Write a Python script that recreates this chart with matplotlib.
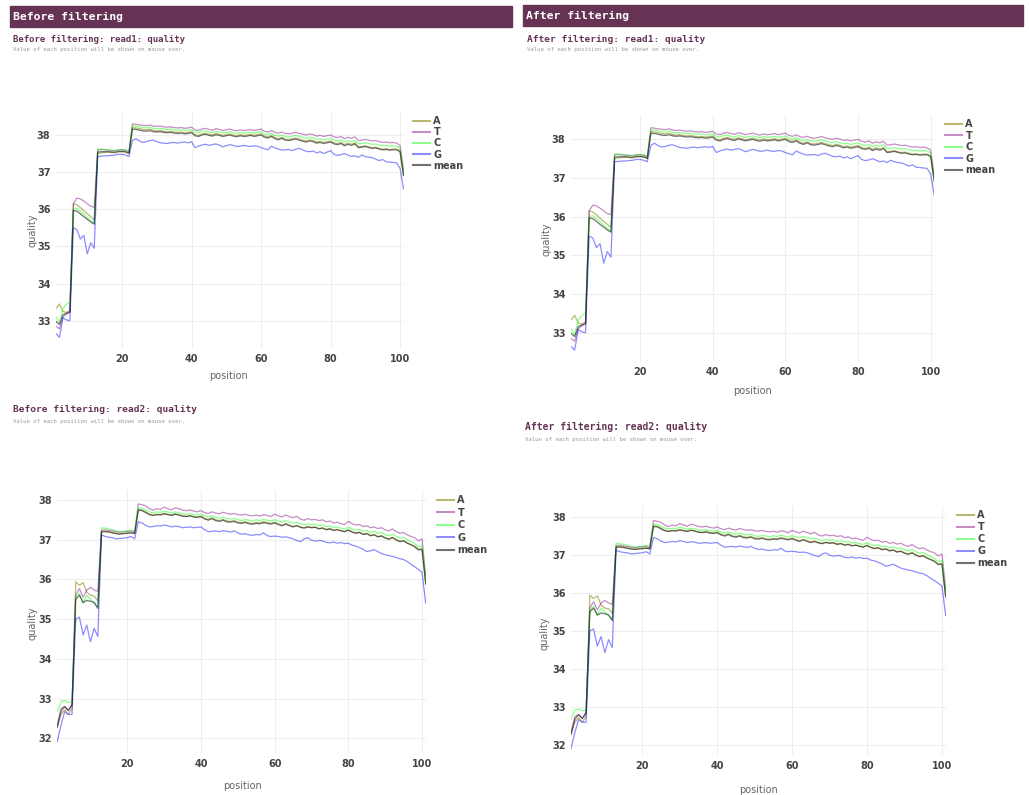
import matplotlib
matplotlib.use("Agg")
import matplotlib.pyplot as plt
from matplotlib.lines import Line2D

# --- data (quality per position, 1..101) ---
positions = list(range(1, 102))
bases = ["A", "T", "C", "G", "mean"]

r1_T = [32.85, 32.78, 33.10, 33.18, 33.22,
        36.15, 36.30, 36.28, 36.22, 36.15, 36.08, 36.05,
        37.60, 37.61, 37.60, 37.59, 37.58, 37.58, 37.60, 37.60, 37.59, 37.55,
        38.30, 38.29, 38.27, 38.26, 38.25, 38.27, 38.24, 38.23, 38.24, 38.22, 38.21, 38.22, 38.20, 38.19, 38.20, 38.18, 38.19, 38.21,
        38.14, 38.12, 38.16, 38.18, 38.15, 38.13, 38.17, 38.15, 38.12, 38.14, 38.16, 38.13, 38.11, 38.14, 38.12, 38.13, 38.15, 38.12, 38.14, 38.16,
        38.10, 38.08, 38.12, 38.07, 38.05, 38.08, 38.04, 38.03, 38.05, 38.07, 38.04, 38.02, 38.00, 38.03, 38.01, 37.97, 37.99, 37.96, 37.98, 38.00,
        37.95, 37.93, 37.96, 37.90, 37.94, 37.91, 37.95, 37.85, 37.86, 37.88, 37.86, 37.84, 37.85, 37.82, 37.80, 37.81, 37.79, 37.80, 37.78, 37.72, 37.05]
r1_C = [33.10, 32.95, 33.32, 33.45, 33.50,
        36.00, 36.03, 35.95, 35.87, 35.78, 35.70, 35.62,
        37.62, 37.62, 37.61, 37.60, 37.59, 37.58, 37.60, 37.61, 37.60, 37.56,
        38.25, 38.24, 38.22, 38.20, 38.19, 38.21, 38.18, 38.17, 38.18, 38.16, 38.15, 38.16, 38.14, 38.13, 38.14, 38.12, 38.13, 38.15,
        38.08, 38.06, 38.10, 38.11, 38.08, 38.06, 38.10, 38.08, 38.05, 38.07, 38.09, 38.06, 38.04, 38.07, 38.05, 38.06, 38.08, 38.05, 38.07, 38.09,
        38.03, 38.01, 38.05, 37.99, 37.97, 38.00, 37.96, 37.95, 37.97, 37.99, 37.96, 37.93, 37.91, 37.94, 37.92, 37.88, 37.90, 37.87, 37.89, 37.91,
        37.86, 37.84, 37.87, 37.81, 37.85, 37.82, 37.86, 37.76, 37.77, 37.79, 37.77, 37.75, 37.76, 37.73, 37.71, 37.72, 37.70, 37.71, 37.70, 37.65, 36.95]
r1_A = [33.33, 33.45, 33.25, 33.22, 33.28,
        36.15, 36.12, 36.05, 35.96, 35.88, 35.80, 35.72,
        37.50, 37.52, 37.53, 37.54, 37.53, 37.52, 37.54, 37.55, 37.54, 37.50,
        38.20, 38.19, 38.17, 38.15, 38.14, 38.16, 38.12, 38.11, 38.12, 38.10, 38.09, 38.10, 38.08, 38.07, 38.08, 38.06, 38.07, 38.09,
        38.01, 37.99, 38.03, 38.05, 38.02, 38.00, 38.04, 38.02, 37.99, 38.01, 38.03, 38.00, 37.98, 38.01, 37.99, 38.00, 38.02, 37.99, 38.01, 38.03,
        37.97, 37.95, 37.99, 37.93, 37.90, 37.94, 37.89, 37.88, 37.90, 37.92, 37.89, 37.86, 37.84, 37.87, 37.85, 37.81, 37.83, 37.80, 37.82, 37.84,
        37.79, 37.77, 37.80, 37.74, 37.78, 37.75, 37.79, 37.68, 37.69, 37.71, 37.68, 37.66, 37.67, 37.64, 37.62, 37.63, 37.61, 37.62, 37.62, 37.58, 36.90]
r1_G = [32.65, 32.55, 33.08, 33.02, 33.00,
        35.50, 35.45, 35.20, 35.30, 34.80, 35.10, 34.95,
        37.42, 37.43, 37.44, 37.44, 37.45, 37.46, 37.48, 37.48, 37.46, 37.42,
        37.85, 37.90, 37.84, 37.80, 37.82, 37.85, 37.86, 37.82, 37.79, 37.78, 37.77, 37.79, 37.80, 37.78, 37.80, 37.81, 37.79, 37.82,
        37.66, 37.70, 37.73, 37.75, 37.72, 37.74, 37.76, 37.73, 37.68, 37.71, 37.74, 37.72, 37.69, 37.70, 37.72, 37.70, 37.69, 37.71, 37.70, 37.66,
        37.63, 37.60, 37.70, 37.65, 37.62, 37.59, 37.60, 37.61, 37.58, 37.62, 37.64, 37.60, 37.56, 37.55, 37.57, 37.52, 37.55, 37.50, 37.54, 37.58,
        37.48, 37.45, 37.47, 37.50, 37.46, 37.42, 37.44, 37.40, 37.46, 37.42, 37.40, 37.39, 37.35, 37.31, 37.34, 37.28, 37.27, 37.26, 37.25, 37.10, 36.55]
r1_mean = [32.98, 32.90, 33.16, 33.20, 33.24,
           35.97, 35.95, 35.88, 35.80, 35.73, 35.66, 35.60,
           37.54, 37.55, 37.55, 37.55, 37.54, 37.54, 37.56, 37.56, 37.55, 37.51,
           38.16, 38.15, 38.13, 38.11, 38.10, 38.12, 38.09, 38.08, 38.09, 38.07, 38.06, 38.07, 38.05, 38.04, 38.05, 38.03, 38.04, 38.06,
           37.98, 37.96, 38.00, 38.02, 37.99, 37.97, 38.01, 37.99, 37.96, 37.98, 38.00, 37.97, 37.95, 37.98, 37.96, 37.97, 37.99, 37.96, 37.98, 38.00,
           37.94, 37.92, 37.96, 37.90, 37.87, 37.91, 37.86, 37.85, 37.87, 37.89, 37.86, 37.83, 37.81, 37.84, 37.82, 37.78, 37.80, 37.77, 37.79, 37.81,
           37.76, 37.74, 37.77, 37.71, 37.75, 37.72, 37.76, 37.66, 37.67, 37.69, 37.66, 37.64, 37.65, 37.62, 37.60, 37.61, 37.59, 37.60, 37.60, 37.55, 36.92]

r2_T = [32.35, 32.75, 32.80, 32.70, 32.85,
        35.60, 35.77, 35.55, 35.73, 35.80, 35.73, 35.70,
        37.24, 37.25, 37.23, 37.22, 37.20, 37.19, 37.20, 37.21, 37.22, 37.18,
        37.90, 37.88, 37.85, 37.78, 37.74, 37.78, 37.76, 37.82, 37.78, 37.75, 37.80, 37.78, 37.74, 37.73, 37.75, 37.72, 37.70, 37.73,
        37.68, 37.66, 37.70, 37.67, 37.65, 37.69, 37.66, 37.64, 37.66, 37.63, 37.62, 37.64, 37.61, 37.60, 37.62, 37.59, 37.63, 37.61, 37.58, 37.64,
        37.60, 37.57, 37.62, 37.58, 37.55, 37.59, 37.52, 37.49, 37.53, 37.50, 37.51, 37.48, 37.50, 37.45, 37.47, 37.42, 37.44, 37.40, 37.38, 37.46,
        37.40, 37.37, 37.38, 37.33, 37.35, 37.30, 37.32, 37.28, 37.30, 37.25, 37.22, 37.27, 37.20, 37.16, 37.18, 37.12, 37.08, 37.05, 36.97, 37.02, 36.10]
r2_C = [32.68, 32.92, 32.95, 32.90, 32.92,
        35.55, 35.65, 35.40, 35.60, 35.50, 35.40, 35.30,
        37.30, 37.29, 37.27, 37.25, 37.22, 37.20, 37.21, 37.22, 37.24, 37.22,
        37.80, 37.79, 37.75, 37.70, 37.68, 37.70, 37.68, 37.72, 37.70, 37.67, 37.70, 37.68, 37.65, 37.64, 37.66, 37.63, 37.62, 37.64,
        37.60, 37.57, 37.60, 37.56, 37.54, 37.57, 37.53, 37.52, 37.54, 37.50, 37.48, 37.51, 37.49, 37.47, 37.50, 37.48, 37.51, 37.49, 37.47, 37.50,
        37.47, 37.44, 37.48, 37.45, 37.42, 37.44, 37.40, 37.37, 37.40, 37.38, 37.39, 37.35, 37.37, 37.33, 37.35, 37.30, 37.32, 37.29, 37.27, 37.31,
        37.27, 37.24, 37.26, 37.21, 37.23, 37.18, 37.21, 37.16, 37.18, 37.13, 37.10, 37.14, 37.08, 37.04, 37.06, 37.00, 36.95, 36.90, 36.82, 36.85, 36.00]
r2_A = [32.30, 32.60, 32.72, 32.60, 32.75,
        35.94, 35.85, 35.92, 35.68, 35.60, 35.58, 35.46,
        37.20, 37.21, 37.20, 37.18, 37.16, 37.15, 37.16, 37.17, 37.18, 37.16,
        37.76, 37.75, 37.70, 37.64, 37.62, 37.64, 37.63, 37.66, 37.64, 37.62, 37.65, 37.63, 37.60, 37.59, 37.61, 37.58, 37.57, 37.59,
        37.54, 37.51, 37.55, 37.50, 37.48, 37.51, 37.47, 37.46, 37.48, 37.44, 37.43, 37.45, 37.42, 37.41, 37.43, 37.42, 37.45, 37.43, 37.41, 37.44,
        37.40, 37.36, 37.41, 37.37, 37.33, 37.36, 37.32, 37.30, 37.33, 37.31, 37.32, 37.28, 37.30, 37.26, 37.28, 37.24, 37.26, 37.23, 37.21, 37.25,
        37.20, 37.17, 37.19, 37.14, 37.16, 37.11, 37.13, 37.08, 37.10, 37.05, 37.02, 37.06, 37.00, 36.96, 36.98, 36.92, 36.88, 36.84, 36.76, 36.78, 35.92]
r2_G = [31.92, 32.33, 32.67, 32.60, 32.60,
        35.00, 35.05, 34.60, 34.85, 34.43, 34.77, 34.56,
        37.12, 37.08, 37.06, 37.05, 37.02, 37.03, 37.04, 37.05, 37.08, 37.02,
        37.45, 37.42, 37.36, 37.32, 37.33, 37.35, 37.34, 37.37, 37.35, 37.32, 37.34, 37.33, 37.30, 37.31, 37.32, 37.30, 37.31, 37.32,
        37.25, 37.20, 37.21, 37.22, 37.20, 37.23, 37.21, 37.19, 37.22, 37.17, 37.14, 37.15, 37.12, 37.11, 37.13, 37.12, 37.17, 37.10, 37.08, 37.09,
        37.08, 37.06, 37.07, 37.05, 37.02, 36.98, 36.95, 37.02, 37.05, 36.99, 36.96, 36.98, 36.97, 36.93, 36.92, 36.94, 36.91, 36.93, 36.90, 36.91,
        36.86, 36.84, 36.80, 36.76, 36.70, 36.72, 36.75, 36.70, 36.65, 36.62, 36.60, 36.58, 36.55, 36.52, 36.50, 36.45, 36.38, 36.32, 36.25, 36.18, 35.40]
r2_mean = [32.28, 32.68, 32.80, 32.70, 32.85,
           35.50, 35.60, 35.42, 35.47, 35.45, 35.42, 35.27,
           37.20, 37.20, 37.19, 37.17, 37.15, 37.14, 37.15, 37.16, 37.17, 37.15,
           37.74, 37.73, 37.68, 37.63, 37.61, 37.63, 37.62, 37.65, 37.63, 37.61, 37.64, 37.62, 37.59, 37.58, 37.60, 37.57, 37.56, 37.58,
           37.52, 37.49, 37.53, 37.48, 37.46, 37.49, 37.45, 37.44, 37.46, 37.42, 37.41, 37.43, 37.40, 37.39, 37.41, 37.40, 37.43, 37.41, 37.39, 37.42,
           37.38, 37.35, 37.39, 37.35, 37.32, 37.35, 37.31, 37.29, 37.32, 37.30, 37.31, 37.27, 37.29, 37.25, 37.27, 37.23, 37.25, 37.22, 37.20, 37.24,
           37.19, 37.16, 37.18, 37.13, 37.15, 37.10, 37.12, 37.07, 37.09, 37.04, 37.01, 37.05, 36.99, 36.95, 36.97, 36.91, 36.87, 36.82, 36.74, 36.75, 35.88]

read1 = {"A": r1_A, "T": r1_T, "C": r1_C, "G": r1_G, "mean": r1_mean}
read2 = {"A": r2_A, "T": r2_T, "C": r2_C, "G": r2_G, "mean": r2_mean}

section_titles = ["Before filtering", "After filtering"]
panel_titles = ["Before filtering: read1: quality", "After filtering: read1: quality",
                "Before filtering: read2: quality", "After filtering: read2: quality"]
note = "Value of each position will be shown on mouse over."

colors = {"A": (128/255, 128/255, 0, 0.55), "T": (128/255, 0, 128/255, 0.45),
          "C": (0, 1, 0, 0.45), "G": (0, 0, 1, 0.45), "mean": (20/255, 20/255, 20/255, 0.6)}

W, H = 1029, 795
fig = plt.figure(figsize=(W / 100, H / 100), dpi=100)
purple = "#663355"
mono = "DejaVu Sans Mono"


def fx(x):
    return x / W


def fy(y):
    return 1 - y / H


# section header bars
for (x0, y0, x1, y1), label in zip([(10, 6, 512, 27), (523, 5, 1023, 26)], section_titles):
    fig.patches.append(plt.Rectangle((fx(x0), fy(y1)), (x1 - x0) / W, (y1 - y0) / H,
                                     transform=fig.transFigure, color=purple, zorder=0))
    fig.text(fx(x0 + 3), fy((y0 + y1) / 2), label, color="white", family=mono,
             weight="bold", fontsize=8.2, va="center")

# panel layout: plot box in px, ylim, title/note position, legend, axis-label positions
panels = [
    dict(data=read1, box=(56, 112.7, 403.5, 348.2), ylim=(32.26, 38.6), title=(13, 40, 6.5), note=(13, 50),
         leg=(413, 116, 0.12), xl=(229, 376), yl=(32, 230)),
    dict(data=read1, box=(571, 115, 934.3, 361.7), ylim=(32.25, 38.63), title=(527, 40, 6.8), note=(527, 50),
         leg=(945, 119, 0.16), xl=(753, 391), yl=(547, 239)),
    dict(data=read2, box=(57.3, 490, 425.7, 753), ylim=(31.63, 38.25), title=(13, 409, 6.8), note=(13, 422),
         leg=(437, 495, 0.26), xl=(242, 786), yl=(32, 623)),
    dict(data=read2, box=(571.1, 506, 945.7, 755), ylim=(31.74, 38.28), title=(525, 427, 7.0), note=(525, 439),
         leg=(957, 510, 0.21), xl=(758, 790), yl=(545, 633)),
]

for p, ptitle in zip(panels, panel_titles):
    x0, y0, x1, y1 = p["box"]
    ax = fig.add_axes([fx(x0), fy(y1), (x1 - x0) / W, (y1 - y0) / H])
    for b in bases:
        ax.plot(positions, p["data"][b], color=colors[b], lw=0.9, label=b)
    ax.set_xlim(1, 101)
    ax.set_ylim(*p["ylim"])
    ax.set_xticks([20, 40, 60, 80, 100])
    lo, hi = p["ylim"]
    ax.set_yticks([v for v in range(31, 40) if lo <= v <= hi])
    ax.grid(True, color="#eeeeee", lw=0.8)
    ax.set_axisbelow(True)
    for s in ax.spines.values():
        s.set_visible(False)
    ax.tick_params(length=0, labelsize=7, labelcolor="#444444", pad=4)
    for t in ax.get_xticklabels() + ax.get_yticklabels():
        t.set_fontweight("bold")

    tx, ty, tsize = p["title"]
    fig.text(fx(tx), fy(ty), ptitle, color=purple, family=mono,
             weight="bold", fontsize=tsize, va="center")
    fig.text(fx(p["note"][0]), fy(p["note"][1]), note, color="#999999", family=mono,
             fontsize=4.1, va="center")
    fig.text(fx(p["xl"][0]), fy(p["xl"][1]), "position", color="#666666", fontsize=7,
             ha="center", va="center")
    fig.text(fx(p["yl"][0]), fy(p["yl"][1]), "quality", color="#666666", fontsize=7,
             ha="center", va="center", rotation=90)

    lx, ly, sp = p["leg"]
    handles = [Line2D([], [], color=colors[b], lw=1.5) for b in bases]
    leg = ax.legend(handles, bases, loc="upper left", bbox_to_anchor=(fx(lx), fy(ly)),
                    bbox_transform=fig.transFigure, frameon=False, fontsize=7,
                    handlelength=1.75, handletextpad=0.35, labelspacing=sp,
                    borderpad=0, borderaxespad=0)
    for t in leg.get_texts():
        t.set_fontweight("bold")
        t.set_color("#444444")

fig.savefig("out.png", dpi=100, facecolor="white")
